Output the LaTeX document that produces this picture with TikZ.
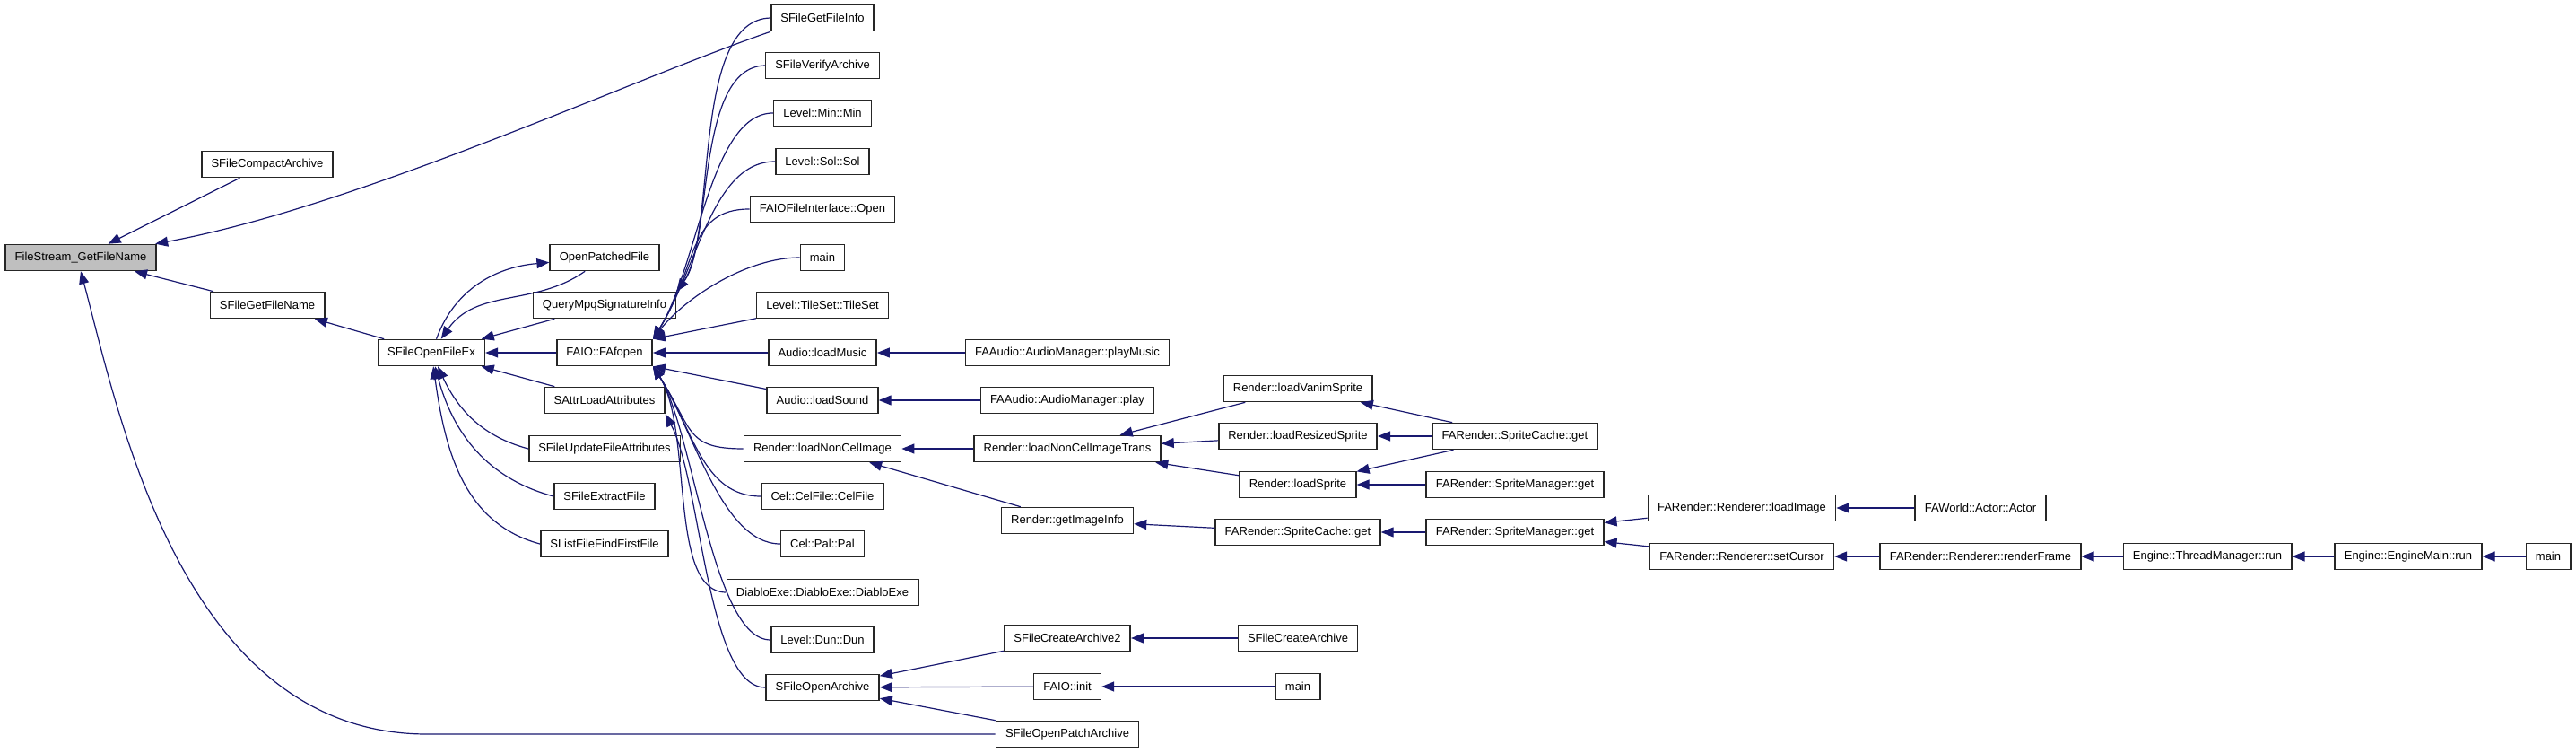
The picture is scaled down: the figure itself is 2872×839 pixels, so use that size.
\documentclass[tikz,border=0pt]{standalone}
\usepackage{fontspec}
\setmainfont{Liberation Sans}
\usepackage{tikz}
\usetikzlibrary{arrows.meta}

\definecolor{midnightblue}{RGB}{25,25,112}
\definecolor{grey75}{RGB}{191,191,191}

\begin{document}
\begin{tikzpicture}[x=0.5pt, y=-0.5pt, >={Triangle[length=7pt,width=5.5pt]},
  fn/.style={draw=black!85, fill=white, line width=0.8pt, inner xsep=5.3pt, inner ysep=0pt,
    minimum height=14.5pt, font=\fontsize{6.5}{7}\selectfont},
  root/.style={fn, fill=grey75},
  call/.style={->, midnightblue, line width=0.6pt}]

  \useasboundingbox (0,0) rectangle (2872,839);

  % Function being documented and its direct callers
  \node[root] (fsgfn) at (90,287) {FileStream\_GetFileName};
  \node[fn] (scompact) at (298,183) {SFileCompactArchive};
  \node[fn] (sgetname) at (298,340) {SFileGetFileName};
  \node[fn] (sopenex) at (481,393) {SFileOpenFileEx};

  % Callers of SFileOpenFileEx
  \node[fn] (opatched) at (674,287) {OpenPatchedFile};
  \node[fn] (querympq) at (674,340) {QueryMpqSignatureInfo};
  \node[fn] (fafopen) at (674,393) {FAIO::FAfopen};
  \node[fn] (sattr) at (674,446) {SAttrLoadAttributes};
  \node[fn] (supdate) at (674,500) {SFileUpdateFileAttributes};
  \node[fn] (sextract) at (674,553) {SFileExtractFile};
  \node[fn] (slist) at (674,606) {SListFileFindFirstFile};

  % Fourth column
  \node[fn] (sgetinfo) at (917,20) {SFileGetFileInfo};
  \node[fn] (sverify) at (917,73) {SFileVerifyArchive};
  \node[fn] (lmin) at (917,126) {Level::Min::Min};
  \node[fn] (lsol) at (917,180) {Level::Sol::Sol};
  \node[fn] (faioopen) at (917,233) {FAIOFileInterface::Open};
  \node[fn] (mainA) at (917,287) {main};
  \node[fn] (ltileset) at (917,340) {Level::TileSet::TileSet};
  \node[fn] (loadmusic) at (917,393) {Audio::loadMusic};
  \node[fn] (loadsound) at (917,446) {Audio::loadSound};
  \node[fn] (loadnoncel) at (917,500) {Render::loadNonCelImage};
  \node[fn] (celfile) at (917,553) {Cel::CelFile::CelFile};
  \node[fn] (celpal) at (917,606) {Cel::Pal::Pal};
  \node[fn] (diablo) at (917,660) {DiabloExe::DiabloExe::DiabloExe};
  \node[fn] (ldun) at (917,713) {Level::Dun::Dun};
  \node[fn] (sopenarc) at (917,766) {SFileOpenArchive};

  % Fifth column
  \node[fn] (playmusic) at (1190,393) {FAAudio::AudioManager::playMusic};
  \node[fn] (play) at (1190,446) {FAAudio::AudioManager::play};
  \node[fn] (trans) at (1190,500) {Render::loadNonCelImageTrans};
  \node[fn] (getimage) at (1190,580) {Render::getImageInfo};
  \node[fn] (screate2) at (1190,711) {SFileCreateArchive2};
  \node[fn] (faioinit) at (1190,765) {FAIO::init};
  \node[fn] (sopatch) at (1190,818) {SFileOpenPatchArchive};

  % Sprite loading
  \node[fn] (vanim) at (1447,433) {Render::loadVanimSprite};
  \node[fn] (resized) at (1447,486) {Render::loadResizedSprite};
  \node[fn] (lsprite) at (1447,540) {Render::loadSprite};
  \node[fn] (scget) at (1447,593) {FARender::SpriteCache::get};
  \node[fn] (screate) at (1447,711) {SFileCreateArchive};
  \node[fn] (mainB) at (1447,765) {main};
  \node[fn] (scgetB) at (1689,486) {FARender::SpriteCache::get};
  \node[fn] (smgetA) at (1689,540) {FARender::SpriteManager::get};
  \node[fn] (smgetB) at (1689,593) {FARender::SpriteManager::get};

  % Renderer chain
  \node[fn] (loadimage) at (1942,566) {FARender::Renderer::loadImage};
  \node[fn] (setcursor) at (1942,620) {FARender::Renderer::setCursor};
  \node[fn] (actor) at (2208,566) {FAWorld::Actor::Actor};
  \node[fn] (renderframe) at (2208,620) {FARender::Renderer::renderFrame};
  \node[fn] (threadrun) at (2461,620) {Engine::ThreadManager::run};
  \node[fn] (enginerun) at (2685,620) {Engine::EngineMain::run};
  \node[fn] (mainC) at (2841,620) {main};

  % Calls into FileStream_GetFileName
  \draw[call] (scompact) -- (fsgfn);
  \draw[call] (sgetinfo.south west) .. controls (700,90) and (400,230) .. (fsgfn);
  \draw[call] (sgetname) -- (fsgfn);
  \draw[call] (sopatch.west) -- (476,818) .. controls (200,818) and (130,450) .. (fsgfn.south);
  \draw[call] (sopenex) -- (sgetname);

  % Calls into SFileOpenFileEx
  \draw[call] (sopenex) to[out=70, in=185] (opatched);
  \draw[call] (opatched) to[out=215, in=55] (sopenex);
  \foreach \s in {querympq, fafopen, sattr} {
    \draw[call] (\s) -- (sopenex);
  }
  \draw[call] (supdate.west) to[out=165, in=-65] (sopenex);
  \draw[call] (sextract.west) to[out=165, in=-75] (sopenex);
  \draw[call] (slist.west) to[out=165, in=-82] (sopenex);

  % Calls into QueryMpqSignatureInfo and SAttrLoadAttributes
  \draw[call] (sgetinfo.west) .. controls (770,22) and (800,260) .. (querympq.north east);
  \draw[call] (sverify.west) .. controls (775,75) and (795,270) .. (querympq.north east);
  \draw[call] (sopenarc.west) .. controls +(-65,0) and +(40,75) .. (sattr.south east);

  % Calls into FAIO::FAfopen
  \foreach \s in {lmin, lsol, faioopen} {
    \draw[call] (\s.west) .. controls +(-70,0) and +(50,-80) .. (fafopen.north east);
  }
  \draw[call] (mainA.west) .. controls +(-60,0) and +(35,-45) .. (fafopen.north east);
  \draw[call] (ltileset) -- (fafopen.north east);
  \draw[call] (loadmusic) -- (fafopen);
  \draw[call] (loadsound) -- (fafopen.south east);
  \foreach \s in {loadnoncel, celfile, celpal, diablo, ldun} {
    \draw[call] (\s.west) .. controls +(-65,0) and +(45,70) .. (fafopen.south east);
  }

  % Audio and archive callers
  \draw[call] (playmusic) -- (loadmusic);
  \draw[call] (play) -- (loadsound);
  \draw[call] (screate2) -- (sopenarc);
  \draw[call] (faioinit) -- (sopenarc);
  \draw[call] (sopatch) -- (sopenarc);
  \draw[call] (screate) -- (screate2);
  \draw[call] (mainB) -- (faioinit);

  % Render callers
  \draw[call] (trans) -- (loadnoncel);
  \draw[call] (getimage) -- (loadnoncel);
  \foreach \s in {vanim, resized, lsprite} {
    \draw[call] (\s) -- (trans);
  }
  \foreach \s in {vanim, resized, lsprite} {
    \draw[call] (scgetB) -- (\s);
  }
  \draw[call] (smgetA) -- (lsprite);
  \draw[call] (scget) -- (getimage);
  \draw[call] (smgetB) -- (scget);
  \draw[call] (loadimage) -- (smgetB);
  \draw[call] (setcursor) -- (smgetB);
  \draw[call] (actor) -- (loadimage);
  \draw[call] (renderframe) -- (setcursor);
  \draw[call] (threadrun) -- (renderframe);
  \draw[call] (enginerun) -- (threadrun);
  \draw[call] (mainC) -- (enginerun);

\end{tikzpicture}
\end{document}
